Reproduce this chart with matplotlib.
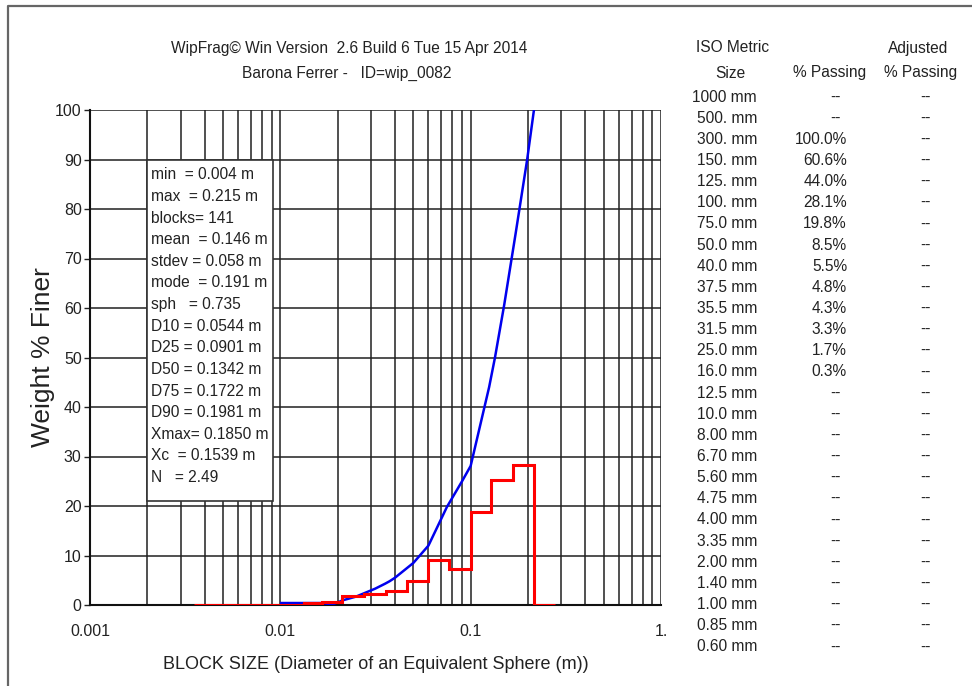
import matplotlib
matplotlib.use('Agg')
import matplotlib.pyplot as plt
from matplotlib.patches import Rectangle
from matplotlib.lines import Line2D
from matplotlib.ticker import LogLocator, FixedLocator, FixedFormatter, NullFormatter

plt.rcParams['font.family'] = ['Liberation Sans', 'DejaVu Sans']

# cumulative passing curve (size m, % finer)
cum_size = [0.0101, 0.0165, 0.0187, 0.0215, 0.025, 0.0315, 0.0355, 0.0375, 0.040,
            0.050, 0.060, 0.075, 0.0901, 0.100, 0.125, 0.1342, 0.150, 0.1722, 0.1981, 0.215]
cum_pct = [0.4, 0.4, 0.1, 1.0, 1.7, 3.3, 4.3, 4.8, 5.5,
           8.5, 12.0, 19.8, 25.0, 28.1, 44.0, 50.0, 60.6, 75.0, 90.0, 100.0]

# histogram bins (edges m) and heights (%)
bin_edges = [0.0035, 0.0133, 0.0165, 0.0212, 0.0275, 0.0357, 0.0464, 0.060,
             0.0770, 0.100, 0.128, 0.166, 0.215, 0.278]
bin_pct = [0, 0.4, 0.6, 1.8, 2.2, 2.9, 4.8, 9.0, 7.2, 18.8, 25.3, 28.2, 0]

stats = ['min  = 0.004 m', 'max  = 0.215 m', 'blocks= 141', 'mean  = 0.146 m',
         'stdev = 0.058 m', 'mode  = 0.191 m', 'sph   = 0.735', 'D10 = 0.0544 m',
         'D25 = 0.0901 m', 'D50 = 0.1342 m', 'D75 = 0.1722 m', 'D90 = 0.1981 m',
         'Xmax= 0.1850 m', 'Xc  = 0.1539 m', 'N   = 2.49']

iso_sizes = ['1000 mm', '500. mm', '300. mm', '150. mm', '125. mm', '100. mm', '75.0 mm',
             '50.0 mm', '40.0 mm', '37.5 mm', '35.5 mm', '31.5 mm', '25.0 mm', '16.0 mm',
             '12.5 mm', '10.0 mm', '8.00 mm', '6.70 mm', '5.60 mm', '4.75 mm', '4.00 mm',
             '3.35 mm', '2.00 mm', '1.40 mm', '1.00 mm', '0.85 mm', '0.60 mm']
passing = ['--', '--', '100.0%', '60.6%', '44.0%', '28.1%', '19.8%', '8.5%', '5.5%',
           '4.8%', '4.3%', '3.3%', '1.7%', '0.3%'] + ['--'] * 13
adjusted = ['--'] * len(iso_sizes)

W, H = 972, 686
FS = 11.2
TXT = '#222'
fig = plt.figure(figsize=(W / 100, H / 100), dpi=100)


def px(x, y):
    return x / W, 1 - y / H


ax = fig.add_axes([90 / W, 1 - 605 / H, (661 - 90) / W, (605 - 110) / H])
ax.set_xscale('log')
ax.set_xlim(0.001, 1.0)
ax.set_ylim(0, 100)

ax.xaxis.set_major_locator(FixedLocator([0.001, 0.01, 0.1, 1.0]))
ax.xaxis.set_major_formatter(FixedFormatter(['0.001', '0.01', '0.1', '1.']))
ax.xaxis.set_minor_locator(LogLocator(base=10, subs=range(2, 10)))
ax.xaxis.set_minor_formatter(NullFormatter())
ax.set_yticks(range(0, 101, 10))
ax.grid(True, which='both', axis='x', color='#202020', lw=1.1)
ax.grid(True, which='major', axis='y', color='#202020', lw=1.1)
ax.tick_params(axis='x', which='both', length=0, pad=14, labelsize=11.5, colors=TXT)
ax.tick_params(axis='y', length=4, width=1, pad=2, labelsize=11.5, colors=TXT)
for s in ['top', 'right']:
    ax.spines[s].set_visible(False)
for s in ['left', 'bottom']:
    ax.spines[s].set_color('#111')
    ax.spines[s].set_linewidth(1.5)

ax.plot(cum_size, cum_pct, color='#0000ee', lw=1.8, zorder=3)
ax.stairs(bin_pct, bin_edges, color='red', lw=2.2, zorder=4)

ax.set_ylabel('Weight % Finer', fontsize=19, color=TXT, labelpad=0)
ax.set_xlabel('BLOCK SIZE (Diameter of an Equivalent Sphere (m))',
              fontsize=13, color=TXT, labelpad=12)

# stats box
fig.patches.append(Rectangle(px(147, 501), 126 / W, 341 / H, transform=fig.transFigure,
                             facecolor='white', edgecolor='#333', lw=1.2, zorder=5))
for i, s in enumerate(stats):
    x, y = px(151, 175 + 21.6 * i)
    fig.text(x, y, s, fontsize=FS, color=TXT, va='center', ha='left', zorder=6)

# title lines
fig.text(*px(349, 48), 'WipFrag\u00a9 Win Version  2.6 Build 6 Tue 15 Apr 2014',
         fontsize=FS, color=TXT, ha='center', va='center')
fig.text(*px(347, 73), 'Barona Ferrer -   ID=wip_0082',
         fontsize=FS, color=TXT, ha='center', va='center')

# size table
hdr = dict(fontsize=FS, color=TXT, ha='center', va='center')
fig.text(*px(733, 48), 'ISO Metric', **hdr)
fig.text(*px(730, 73), 'Size', **hdr)
fig.text(*px(830, 73), '% Passing', **hdr)
fig.text(*px(918, 48), 'Adjusted', **hdr)
fig.text(*px(921, 73), '% Passing', **hdr)
for i in range(len(iso_sizes)):
    y = 97 + 21.15 * i
    fig.text(*px(757, y), iso_sizes[i], fontsize=FS, color=TXT, ha='right', va='center')
    if passing[i] == '--':
        fig.text(*px(835, y), passing[i], fontsize=FS, color=TXT, ha='center', va='center')
    else:
        fig.text(*px(847, y), passing[i], fontsize=FS, color=TXT, ha='right', va='center')
    fig.text(*px(925, y), adjusted[i], fontsize=FS, color=TXT, ha='center', va='center')

# outer frame (left and top edges)
fig.lines.append(Line2D([8 / W, 8 / W, 1.0], [0, 1 - 6 / H, 1 - 6 / H],
                        transform=fig.transFigure, color='#666', lw=1.6))

fig.savefig('out.png', dpi=100)
